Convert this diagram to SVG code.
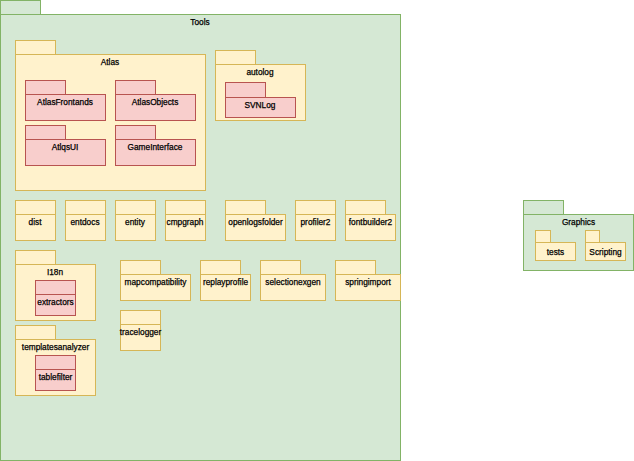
<svg xmlns="http://www.w3.org/2000/svg" width="634" height="461" viewBox="0 0 634 461">
<style>
.g{fill:#d5e8d4;stroke:#82b366;stroke-width:1}
.y{fill:#fff2cc;stroke:#d6b656;stroke-width:1}
.r{fill:#f8cecc;stroke:#b85450;stroke-width:1}
text{font-family:"Liberation Sans",Arial,sans-serif;font-size:8.3px;fill:#000;stroke:#000;stroke-width:0.25;text-anchor:middle}
</style>
<rect width="634" height="461" fill="#fff"/>
<g id="Tools"><rect class="g" x="0.5" y="0.5" width="40" height="14"/><rect class="g" x="0.5" y="14.5" width="400" height="446"/><text x="200" y="25">Tools</text></g>
<g id="Atlas"><rect class="y" x="15.5" y="40.5" width="40" height="14"/><rect class="y" x="15.5" y="54.5" width="190" height="136"/><text x="110" y="65">Atlas</text></g>
<g id="AtlasFrontands"><rect class="r" x="25.5" y="80.5" width="40" height="14"/><rect class="r" x="25.5" y="94.5" width="80" height="26"/><text x="65" y="105">AtlasFrontands</text></g>
<g id="AtlasObjects"><rect class="r" x="115.5" y="80.5" width="40" height="14"/><rect class="r" x="115.5" y="94.5" width="80" height="26"/><text x="155" y="105">AtlasObjects</text></g>
<g id="AtlqsUI"><rect class="r" x="25.5" y="125.5" width="40" height="14"/><rect class="r" x="25.5" y="139.5" width="80" height="26"/><text x="65" y="150">AtlqsUI</text></g>
<g id="GameInterface"><rect class="r" x="115.5" y="125.5" width="40" height="14"/><rect class="r" x="115.5" y="139.5" width="80" height="26"/><text x="155" y="150">GameInterface</text></g>
<g id="autolog"><rect class="y" x="215.5" y="50.5" width="40" height="14"/><rect class="y" x="215.5" y="64.5" width="90" height="56"/><text x="260" y="75">autolog</text></g>
<g id="SVNLog"><rect class="r" x="225.5" y="82.5" width="40" height="15"/><rect class="r" x="225.5" y="97.5" width="70" height="20"/><text x="260" y="108">SVNLog</text></g>
<g id="dist"><rect class="y" x="15.5" y="200.5" width="40" height="14"/><rect class="y" x="15.5" y="214.5" width="40" height="26"/><text x="35" y="225">dist</text></g>
<g id="entdocs"><rect class="y" x="65.5" y="200.5" width="40" height="14"/><rect class="y" x="65.5" y="214.5" width="40" height="26"/><text x="85" y="225">entdocs</text></g>
<g id="entity"><rect class="y" x="115.5" y="200.5" width="40" height="14"/><rect class="y" x="115.5" y="214.5" width="40" height="26"/><text x="135" y="225">entity</text></g>
<g id="cmpgraph"><rect class="y" x="165.5" y="200.5" width="40" height="14"/><rect class="y" x="165.5" y="214.5" width="40" height="26"/><text x="185" y="225">cmpgraph</text></g>
<g id="openlogsfolder"><rect class="y" x="225.5" y="200.5" width="40" height="14"/><rect class="y" x="225.5" y="214.5" width="60" height="26"/><text x="255.5" y="225">openlogsfolder</text></g>
<g id="profiler2"><rect class="y" x="295.5" y="200.5" width="40" height="14"/><rect class="y" x="295.5" y="214.5" width="40" height="26"/><text x="315.5" y="225">profiler2</text></g>
<g id="fontbuilder2"><rect class="y" x="345.5" y="200.5" width="40" height="14"/><rect class="y" x="345.5" y="214.5" width="50" height="26"/><text x="370.5" y="225">fontbuilder2</text></g>
<g id="I18n"><rect class="y" x="15.5" y="250.5" width="40" height="14"/><rect class="y" x="15.5" y="264.5" width="80" height="56"/><text x="55" y="275">I18n</text></g>
<g id="extractors"><rect class="r" x="35.5" y="280.5" width="40" height="14"/><rect class="r" x="35.5" y="294.5" width="40" height="21"/><text x="55.5" y="305">extractors</text></g>
<g id="mapcompatibility"><rect class="y" x="120.5" y="260.5" width="40" height="14"/><rect class="y" x="120.5" y="274.5" width="70" height="26"/><text x="155.5" y="285">mapcompatibility</text></g>
<g id="replayprofile"><rect class="y" x="200.5" y="260.5" width="40" height="14"/><rect class="y" x="200.5" y="274.5" width="50" height="26"/><text x="225.5" y="285">replayprofile</text></g>
<g id="selectionexgen"><rect class="y" x="260.5" y="260.5" width="40" height="14"/><rect class="y" x="260.5" y="274.5" width="65" height="26"/><text x="293" y="285">selectionexgen</text></g>
<g id="springimport"><rect class="y" x="335.5" y="260.5" width="40" height="14"/><rect class="y" x="335.5" y="274.5" width="65" height="26"/><text x="368" y="285">springimport</text></g>
<g id="tracelogger"><rect class="y" x="120.5" y="310.5" width="40" height="14"/><rect class="y" x="120.5" y="324.5" width="40" height="26"/><text x="140.5" y="335">tracelogger</text></g>
<g id="templatesanalyzer"><rect class="y" x="15.5" y="325.5" width="40" height="14"/><rect class="y" x="15.5" y="339.5" width="80" height="56"/><text x="55.5" y="350">templatesanalyzer</text></g>
<g id="tablefilter"><rect class="r" x="35.5" y="355.5" width="40" height="14"/><rect class="r" x="35.5" y="369.5" width="40" height="21"/><text x="55.5" y="380">tablefilter</text></g>
<g id="Graphics"><rect class="g" x="523.5" y="200.5" width="40" height="14"/><rect class="g" x="523.5" y="214.5" width="110" height="56"/><text x="578.5" y="225">Graphics</text></g>
<g id="tests"><rect class="y" x="535.5" y="230.5" width="15" height="12"/><rect class="y" x="535.5" y="242.5" width="40" height="18"/><text x="555.5" y="255">tests</text></g>
<g id="Scripting"><rect class="y" x="585.5" y="230.5" width="14" height="12"/><rect class="y" x="585.5" y="242.5" width="40" height="18"/><text x="605.5" y="255">Scripting</text></g>
<g id="connectors"></g>
</svg>
